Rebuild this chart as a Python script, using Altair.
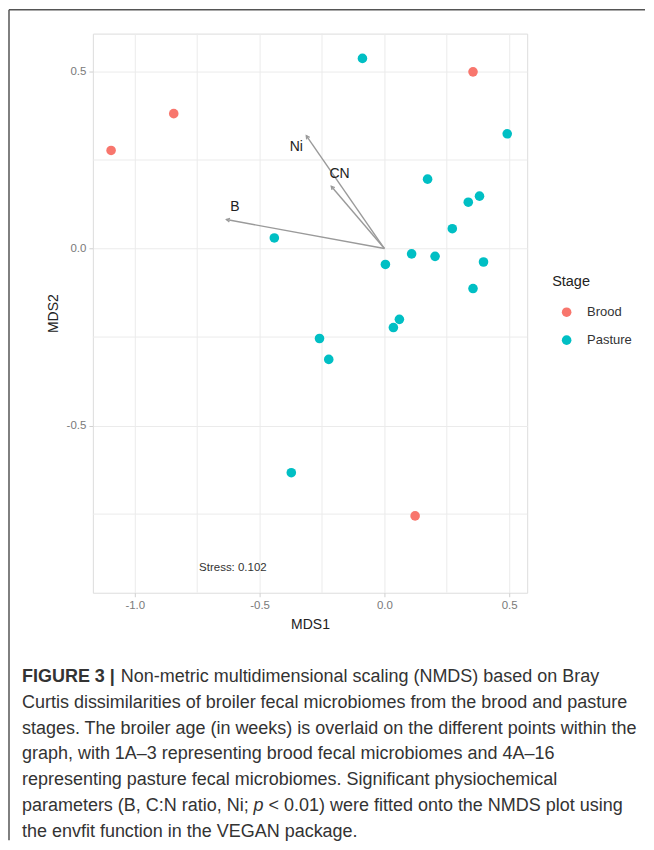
import math
import altair as alt
import pandas as pd

# ---------------- data ----------------
brood_x = [-1.095, -0.844, 0.355, 0.123]
brood_y = [0.277, 0.381, 0.499, -0.755]

pasture_x = [-0.088, 0.492, 0.173, 0.336, 0.381, 0.272, 0.109, 0.203, 0.004,
             0.397, 0.355, -0.441, 0.060, 0.036, -0.260, -0.223, -0.373]
pasture_y = [0.537, 0.324, 0.196, 0.131, 0.148, 0.056, -0.015, -0.022, -0.045,
             -0.038, -0.113, 0.030, -0.200, -0.223, -0.254, -0.313, -0.633]

vec_names = ["B", "CN", "Ni"]
vec_x = [-0.633, -0.213, -0.313]
vec_y = [0.082, 0.176, 0.319]
vec_label_x = [-0.599, -0.180, -0.353]
vec_label_y = [0.116, 0.211, 0.286]

stress_text = ["Stress: 0.102"]
stress_x = [-0.607]
stress_y = [-0.902]

x_major = [-1.0, -0.5, 0.0, 0.5]
y_major = [-0.5, 0.0, 0.5]
x_minor = [-0.75, -0.25, 0.25]
y_minor = [-0.75, -0.25, 0.25]

stages = ["Brood", "Pasture"]
stage_colors = ["#F8766D", "#00BFC4"]

caption_bold = "FIGURE 3 |"
caption_lines = [
    "Non-metric multidimensional scaling (NMDS) based on Bray",
    "Curtis dissimilarities of broiler fecal microbiomes from the brood and pasture",
    "stages. The broiler age (in weeks) is overlaid on the different points within the",
    "graph, with 1A\u20133 representing brood fecal microbiomes and 4A\u201316",
    "representing pasture fecal microbiomes. Significant physiochemical",
    None,
    "the envfit function in the VEGAN package.",
]
caption_line6 = ["parameters (B, C:N ratio, Ni;", "p",
                 "< 0.01) were fitted onto the NMDS plot using"]

# ---------------- layout ----------------
W, H = 435, 560
X_DOM = [-1.168, 0.572]
Y_DOM = [-0.972, 0.607]
kx = W / (X_DOM[1] - X_DOM[0])
ky = H / (Y_DOM[1] - Y_DOM[0])

FONT = "Liberation Sans"

points = pd.DataFrame({
    "MDS1": brood_x + pasture_x,
    "MDS2": brood_y + pasture_y,
    "Stage": ["Brood"] * len(brood_x) + ["Pasture"] * len(pasture_x),
})

vectors = pd.DataFrame({
    "name": vec_names,
    "x0": [0.0] * len(vec_names),
    "y0": [0.0] * len(vec_names),
    "x": vec_x,
    "y": vec_y,
    "lx": vec_label_x,
    "ly": vec_label_y,
    "angle": [(math.degrees(math.atan2(vx * kx, vy * ky)) + 360) % 360
              for vx, vy in zip(vec_x, vec_y)],
})

xs = alt.Scale(domain=X_DOM, nice=False, zero=False)
ys = alt.Scale(domain=Y_DOM, nice=False, zero=False)

lab_expr = "(datum.value < 0 ? '-' : '') + format(abs(datum.value), '.1f')"

def make_axis(vals, title):
    return alt.Axis(values=vals, title=title, labelExpr=lab_expr, grid=True,
                    gridColor="#ebebeb", gridWidth=1, domain=False, ticks=True,
                    tickSize=4, tickColor="#d0d0d0", labelPadding=3,
                    labelColor="#7a7a7a", labelFontSize=11.5, labelFont=FONT,
                    titleFont=FONT, titleFontSize=14, titleFontWeight="normal",
                    titleColor="#222222", titlePadding=6)

minor_x = alt.Chart(pd.DataFrame({"v": x_minor})).mark_rule(
    color="#ebebeb", strokeWidth=1).encode(
    x=alt.X("v:Q", scale=xs, axis=make_axis(x_major, "MDS1")))
minor_y = alt.Chart(pd.DataFrame({"v": y_minor})).mark_rule(
    color="#ebebeb", strokeWidth=1).encode(
    y=alt.Y("v:Q", scale=ys, axis=make_axis(y_major, "MDS2")))

arrows = alt.Chart(vectors).mark_rule(color="#9a9a9a", strokeWidth=1.4).encode(
    x=alt.X("x0:Q", scale=xs), y=alt.Y("y0:Q", scale=ys),
    x2="x:Q", y2="y:Q")

heads = alt.Chart(vectors).mark_point(
    shape="M-0.55,1L0,0L0.55,1", filled=False, color="#9a9a9a",
    strokeWidth=1.3, size=45, opacity=1).encode(
    x=alt.X("x:Q", scale=xs), y=alt.Y("y:Q", scale=ys),
    angle=alt.Angle("angle:Q", scale=None))

vlabels = alt.Chart(vectors).mark_text(
    font=FONT, fontSize=14, color="#222222", align="center",
    baseline="middle").encode(
    x=alt.X("lx:Q", scale=xs), y=alt.Y("ly:Q", scale=ys), text="name:N")

pts = alt.Chart(points).mark_circle(size=92, opacity=1).encode(
    x=alt.X("MDS1:Q", scale=xs),
    y=alt.Y("MDS2:Q", scale=ys),
    color=alt.Color("Stage:N", scale=alt.Scale(domain=stages, range=stage_colors),
                    legend=alt.Legend(orient="none", legendX=460, legendY=242,
                                      title="Stage", titleFont=FONT,
                                      titleFontSize=14.5, titleFontWeight="normal",
                                      titleColor="#222222", titlePadding=16,
                                      labelFont=FONT, labelFontSize=13,
                                      labelColor="#333333", symbolSize=92,
                                      symbolOffset=8, labelOffset=14,
                                      rowPadding=14, symbolStrokeWidth=0)))

stress = alt.Chart(pd.DataFrame({"t": stress_text, "x": stress_x, "y": stress_y})).mark_text(
    font=FONT, fontSize=11.5, color="#333333", align="center", baseline="middle").encode(
    x=alt.X("x:Q", scale=xs), y=alt.Y("y:Q", scale=ys), text="t:N")

one = pd.DataFrame({"a": [0]})
frame_v = alt.Chart(one).mark_rule(color="#555555", strokeWidth=1.5).encode(
    x=alt.value(-84), y=alt.value(-24), y2=alt.value(808))
frame_h = alt.Chart(one).mark_rule(color="#555555", strokeWidth=1.5).encode(
    x=alt.value(-84), x2=alt.value(553), y=alt.value(-24))

CAP_X = 22 - 93
CAP_Y0 = 677 - 33
CAP_DY = 26
CAP_SIZE = 18

def cap_text(txt, x, y, weight="normal", style="normal"):
    return alt.Chart(one).mark_text(
        font=FONT, fontSize=CAP_SIZE, fontWeight=weight, fontStyle=style,
        color="#333333", align="left", baseline="middle").encode(
        x=alt.value(x), y=alt.value(y), text=alt.value(txt))

cap_layers = [cap_text(caption_bold, CAP_X, CAP_Y0, weight="bold")]
for i, line in enumerate(caption_lines):
    y = CAP_Y0 + i * CAP_DY
    if line is None:
        cap_layers.append(cap_text(caption_line6[0], CAP_X, y))
        cap_layers.append(cap_text(caption_line6[1], CAP_X + 232, y, style="italic"))
        cap_layers.append(cap_text(caption_line6[2], CAP_X + 247, y))
    else:
        cap_layers.append(cap_text(line, CAP_X + (99 if i == 0 else 0), y))

chart = alt.layer(
    minor_x, minor_y, arrows, heads, vlabels, pts, stress,
    frame_v, frame_h, *cap_layers
).properties(width=W, height=H, padding=0).configure_view(
    stroke="#d9d9d9", strokeWidth=1.2, fill="white"
).configure(background="white")

chart.save("out.html", embed_options={"renderer": "svg", "actions": False})
